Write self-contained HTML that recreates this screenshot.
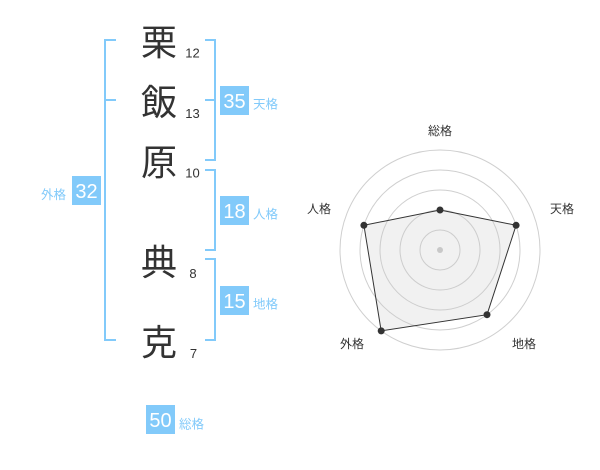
<!DOCTYPE html>
<html>
<head>
<meta charset="utf-8">
<style>
html,body{margin:0;padding:0;background:#fff;}
svg{display:block;}
text{font-family:"Liberation Sans","Noto Sans CJK JP",sans-serif;}
</style>
</head>
<body>
<svg width="600" height="470" viewBox="0 0 600 470" xmlns="http://www.w3.org/2000/svg">
  <!-- brackets -->
  <g stroke="#82cafa" stroke-width="2" fill="none">
    <!-- left (外格) -->
    <polyline points="116,40 105,40 105,340 116,340"/>
    <line x1="105" y1="100" x2="116" y2="100"/>
    <!-- 天格 -->
    <polyline points="205,40 215,40 215,160 205,160"/>
    <line x1="205" y1="100" x2="215" y2="100"/>
    <!-- 人格 -->
    <polyline points="205,170 215,170 215,250 205,250"/>
    <!-- 地格 -->
    <polyline points="205,259 215,259 215,340 205,340"/>
  </g>

  <!-- name characters -->
  <g fill="#333" font-size="36" text-anchor="middle">
    <text x="159" y="55">栗</text>
    <text x="159" y="115">飯</text>
    <text x="159" y="175">原</text>
    <text x="159" y="275">典</text>
    <text x="159" y="355">克</text>
  </g>
  <g fill="#333" font-size="13" text-anchor="middle">
    <text x="192.5" y="57.5">12</text>
    <text x="192.5" y="118">13</text>
    <text x="192.5" y="177.5">10</text>
    <text x="193" y="278">8</text>
    <text x="193.5" y="358">7</text>
  </g>

  <!-- boxes -->
  <g fill="#82cafa">
    <rect x="72" y="176" width="29" height="29"/>
    <rect x="220" y="86" width="29" height="29"/>
    <rect x="220" y="196" width="29" height="29"/>
    <rect x="220" y="286" width="29" height="29"/>
    <rect x="146" y="405" width="29" height="29"/>
  </g>
  <g fill="#fff" font-size="20" text-anchor="middle">
    <text x="86.5" y="198">32</text>
    <text x="234.5" y="108">35</text>
    <text x="234.5" y="218">18</text>
    <text x="234.5" y="308">15</text>
    <text x="160.5" y="427">50</text>
  </g>
  <g fill="#82cafa" font-size="12.5">
    <text x="41" y="199">外格</text>
    <text x="253" y="108.5">天格</text>
    <text x="253" y="218.5">人格</text>
    <text x="253" y="308.5">地格</text>
    <text x="179" y="428.5">総格</text>
  </g>

  <!-- radar chart -->
  <g fill="none" stroke="#cfcfcf" stroke-width="1">
    <circle cx="440" cy="250" r="20"/>
    <circle cx="440" cy="250" r="40"/>
    <circle cx="440" cy="250" r="60"/>
    <circle cx="440" cy="250" r="80"/>
    <circle cx="440" cy="250" r="100"/>
  </g>
  <polygon points="440,210 516.1,225.3 487,314.7 381.2,330.9 363.9,225.3" fill="rgba(200,200,200,0.25)" stroke="#333" stroke-width="1"/>
  <circle cx="440" cy="250" r="3" fill="#c8c8c8"/>
  <g fill="#333">
    <circle cx="440" cy="210" r="3.5"/>
    <circle cx="516.1" cy="225.3" r="3.5"/>
    <circle cx="487" cy="314.7" r="3.5"/>
    <circle cx="381.2" cy="330.9" r="3.5"/>
    <circle cx="363.9" cy="225.3" r="3.5"/>
  </g>
  <g fill="#333" font-size="12" text-anchor="middle">
    <text x="440" y="135">総格</text>
    <text x="562" y="213">天格</text>
    <text x="524" y="348">地格</text>
    <text x="352" y="348">外格</text>
    <text x="319" y="213">人格</text>
  </g>
</svg>
</body>
</html>
